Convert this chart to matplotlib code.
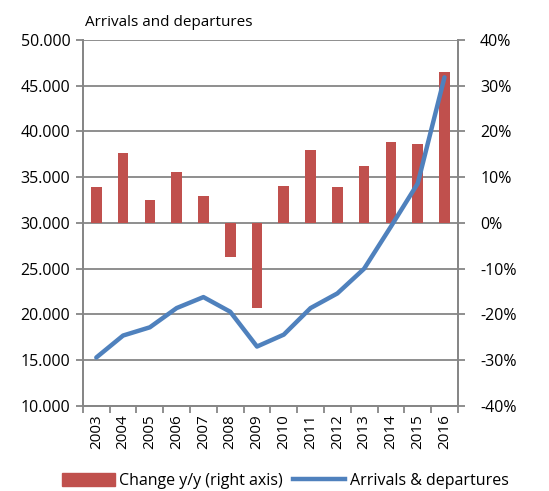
import numpy as np
import matplotlib.pyplot as plt
from matplotlib.ticker import FuncFormatter, FixedLocator
from matplotlib.patches import Patch
from matplotlib.lines import Line2D

plt.rcParams['font.family'] = ['Open Sans', 'DejaVu Sans']

# Jahre, Ankünfte & Abreisen, Veränderung zum Vorjahr (%)
years = ["2003", "2004", "2005", "2006", "2007", "2008", "2009",
         "2010", "2011", "2012", "2013", "2014", "2015", "2016"]
arrivals = [15300, 17700, 18600, 20700, 21900, 20300, 16500,
            17800, 20700, 22300, 25000, 29600, 34300, 45900]
change = [7.9, 15.2, 5.0, 11.1, 5.9, -7.5, -18.6,
          8.1, 16.0, 7.8, 12.5, 17.6, 17.2, 33.0]

rot = "#C0504D"
blau = "#4F81BD"
grau = "#868686"

fig = plt.figure(figsize=(5.49, 4.91), dpi=100)
ax = fig.add_axes([0.151, 0.173, 0.683, 0.746])
x = np.arange(len(years))

# Balken auf der rechten Achse
ax.bar(x, change, width=0.4, color=rot, zorder=2)
ax.set_ylim(-40, 40)
ax.set_xlim(-0.5, len(years) - 0.5)
ax.grid(axis='y', color=grau, linewidth=1.3, zorder=0)
ax.set_axisbelow(True)

# Jahreszahlen mittig, Striche zwischen den Kategorien
ax.set_xticks(x)
ax.set_xticklabels(years, rotation=90)
ax.set_xticks(np.arange(-0.5, len(years), 1), minor=True)
ax.tick_params(axis='x', which='major', length=0, pad=6, labelsize=11)
ax.tick_params(axis='x', which='minor', length=5, color=grau, width=1.3)

# Linie auf der linken Achse
axl = ax.twinx()
axl.plot(x, arrivals, color=blau, linewidth=3.2, solid_capstyle='round', zorder=3)
axl.set_ylim(10000, 50000)
axl.yaxis.set_major_locator(FixedLocator(np.arange(10000, 50001, 5000)))
axl.yaxis.set_major_formatter(FuncFormatter(lambda v, p: f"{v:,.0f}".replace(",", ".")))
axl.yaxis.set_ticks_position('left')
axl.yaxis.set_label_position('left')
axl.tick_params(axis='y', length=5, color=grau, width=1.3, labelsize=11.5, pad=4)

# rechte Achse erst nach twinx setzen
ax.yaxis.set_major_locator(FixedLocator(np.arange(-40, 41, 10)))
ax.yaxis.set_major_formatter(FuncFormatter(lambda v, p: f"{v:.0f}%"))
ax.yaxis.tick_right()
ax.yaxis.set_label_position('right')
ax.tick_params(axis='y', length=5, color=grau, width=1.3, labelsize=11.5, pad=11)

for a in (ax, axl):
    for s in a.spines.values():
        s.set_color(grau)
        s.set_linewidth(1.3)
    a.spines['top'].set_visible(False)

fig.text(0.155, 0.955, "Arrivals and departures", fontsize=11, ha='left', va='center')

handles = [Patch(color=rot), Line2D([0], [0], color=blau, linewidth=3.2)]
fig.legend(handles, ["Change y/y (right axis)", "Arrivals & departures"],
           loc='center', bbox_to_anchor=(0.52, 0.02), ncol=2, frameon=False,
           fontsize=11.5, handlelength=3.3, handleheight=0.9, columnspacing=0.6,
           handletextpad=0.3)

fig.savefig("out.png", dpi=100)
